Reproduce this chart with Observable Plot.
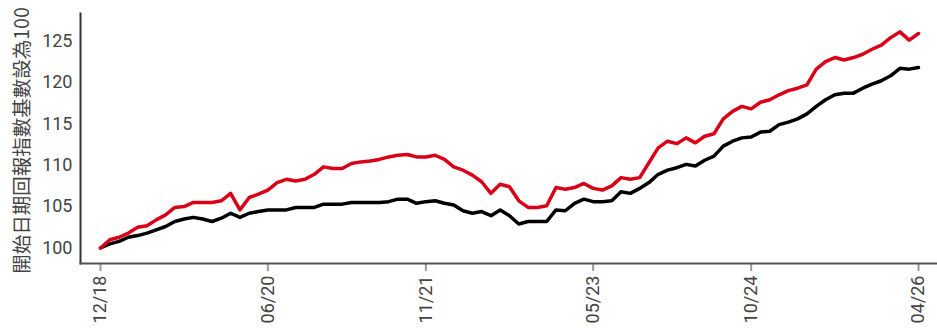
<!DOCTYPE html>
<html>
<head>
<meta charset="utf-8">
<script src="https://cdn.jsdelivr.net/npm/d3@7"></script>
<script src="https://cdn.jsdelivr.net/npm/@observablehq/plot@0.6"></script>
<style>
  html, body { margin: 0; padding: 0; background: #fff; }
</style>
</head>
<body>
<div id="chart"></div>
<script>
// Tick positions (month index from 12/18) and labels
const tickIndex = [0, 18, 35, 53, 70, 88];
const tickLabels = ["12/18", "06/20", "11/21", "05/23", "10/24", "04/26"];
const yTicks = [100, 105, 110, 115, 120, 125];
const yLabel = "開始日期回報指數基數設為100";

// Monthly index values
const redSeries = [
  100.0,101.0,101.3,101.8,102.5,102.7,103.4,104.0,104.9,105.0,
  105.5,105.5,105.5,105.7,106.6,104.6,106.1,106.5,107.0,107.9,
  108.3,108.1,108.3,108.9,109.8,109.6,109.6,110.2,110.4,110.5,
  110.7,111.0,111.2,111.3,111.0,111.0,111.2,110.7,109.8,109.4,
  108.8,108.0,106.6,107.7,107.4,105.7,104.9,104.9,105.1,107.3,
  107.1,107.3,107.8,107.2,107.0,107.5,108.5,108.3,108.5,110.3,
  112.1,112.9,112.6,113.3,112.7,113.5,113.8,115.6,116.5,117.1,
  116.8,117.6,117.9,118.5,119.0,119.3,119.7,121.6,122.5,123.0,
  122.7,123.0,123.4,124.0,124.5,125.4,126.1,125.1,125.9
];
const blackSeries = [
  100.0,100.5,100.8,101.3,101.5,101.8,102.2,102.6,103.2,103.5,
  103.7,103.5,103.2,103.6,104.2,103.7,104.2,104.4,104.6,104.6,
  104.6,104.9,104.9,104.9,105.3,105.3,105.3,105.5,105.5,105.5,
  105.5,105.6,105.9,105.9,105.4,105.6,105.7,105.4,105.2,104.5,
  104.2,104.4,103.9,104.6,103.9,102.9,103.2,103.2,103.2,104.6,
  104.5,105.4,105.9,105.6,105.6,105.7,106.8,106.6,107.2,107.9,
  108.9,109.4,109.7,110.1,109.9,110.6,111.1,112.3,112.9,113.3,
  113.4,114.0,114.1,114.9,115.2,115.6,116.2,117.1,117.9,118.5,
  118.7,118.7,119.3,119.8,120.2,120.8,121.7,121.6,121.8
];

const blackRows = blackSeries.map((v, i) => ({i, v}));
const redRows = redSeries.map((v, i) => ({i, v}));

const chart = Plot.plot({
  width: 937,
  height: 328,
  marginTop: 13,
  marginBottom: 65,
  marginLeft: 80,
  marginRight: 0,
  style: {fontFamily: "Roboto, 'Noto Sans CJK TC', sans-serif", fontSize: "18px", color: "#444", background: "#fff"},
  x: {domain: [0, 88], insetLeft: 20, insetRight: 19},
  y: {domain: [98.13, 128.32]},
  marks: [
    Plot.axisY({ticks: yTicks, tickSize: 0, tickPadding: 8, label: null, fontSize: 18}),
    Plot.text([yLabel], {frameAnchor: "left", rotate: -90, dx: -58, dy: 2, textAnchor: "middle", lineAnchor: "middle", fontSize: 19.5, fill: "#444", fontFamily: "'Noto Sans CJK TC', sans-serif"}),
    Plot.axisX({ticks: tickIndex, tickFormat: (d) => tickLabels[tickIndex.indexOf(d)], tickRotate: -90, tickSize: 8, tickPadding: 4, label: null, stroke: "#999", strokeWidth: 2, fontSize: 18}),
    Plot.frame({anchor: "left", stroke: "#333", strokeWidth: 2}),
    Plot.frame({anchor: "bottom", stroke: "#555", strokeWidth: 2}),
    Plot.line(blackRows, {x: "i", y: "v", stroke: "#000", strokeWidth: 3.5}),
    Plot.line(redRows, {x: "i", y: "v", stroke: "#da0018", strokeWidth: 3.5})
  ]
});
document.getElementById("chart").append(chart);
</script>
</body>
</html>
